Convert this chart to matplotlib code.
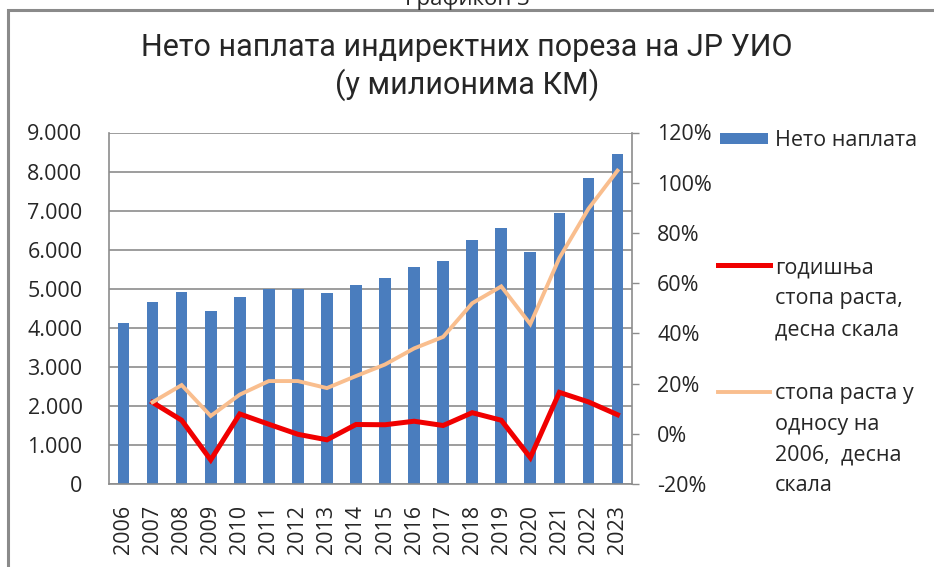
import matplotlib
matplotlib.use("Agg")
import matplotlib.pyplot as plt
from matplotlib.ticker import FuncFormatter
from matplotlib.lines import Line2D
from matplotlib.patches import Rectangle
import numpy as np

plt.rcParams['font.family'] = ['Open Sans', 'DejaVu Sans']

# ---------------- data ----------------
years = ['2006', '2007', '2008', '2009', '2010', '2011', '2012', '2013', '2014',
         '2015', '2016', '2017', '2018', '2019', '2020', '2021', '2022', '2023']
net_collection = [4130, 4660, 4915, 4430, 4790, 5000, 4995, 4890, 5085,
                  5275, 5545, 5710, 6235, 6565, 5940, 6940, 7825, 8450]
annual_growth = [None, 12.5, 5.4, -10.4, 7.9, 3.8, -0.2, -2.4, 3.7,
                 3.6, 5.0, 3.3, 8.4, 5.4, -9.5, 16.5, 12.7, 7.6]
growth_vs_2006 = [None, 12.6, 19.4, 7.1, 15.6, 21.0, 21.0, 18.2, 23.0,
                  27.6, 34.0, 38.6, 52.0, 58.7, 43.7, 70.0, 89.6, 104.8]

title_text = "Нето наплата индиректних пореза на ЈР УИО\n(у милионима КМ)"
caption_text = "Графикон 3"
legend_labels = ["Нето наплата",
                 "годишња\nстопа раста,\nдесна скала",
                 "стопа раста у\nодносу на\n2006,  десна\nскала"]

left_ticks = [0, 1000, 2000, 3000, 4000, 5000, 6000, 7000, 8000, 9000]
right_ticks = [-20, 0, 20, 40, 60, 80, 100, 120]

# ---------------- styles ----------------
W, H = 934, 567
bar_color = '#4A7DBE'
red = '#F00000'
orange = '#F9BE8E'
grid_color = '#8C8C8C'
text_color = '#262626'
tick_fs = 15.5

def fx(px):
    return px / W

def fy(py):
    return 1 - py / H

fig = plt.figure(figsize=(W / 100, H / 100), dpi=100)
fig.patch.set_facecolor('white')

ax = fig.add_axes([fx(109), fy(484), fx(632) - fx(109), (484 - 132.5) / H])
x = np.arange(len(years))

ax.bar(x, net_collection, width=0.4, color=bar_color, zorder=2)
ax.set_xlim(-0.5, len(years) - 0.5)
ax.set_ylim(0, 9000)
ax.set_yticks(left_ticks)
ax.yaxis.set_major_formatter(FuncFormatter(lambda v, p: f"{int(v):,}".replace(',', '.')))
ax.set_xticks(x)
ax.set_xticklabels(years, rotation=90, fontsize=tick_fs, color=text_color)
ax.tick_params(axis='y', length=0, pad=19, labelsize=tick_fs, labelcolor=text_color)
ax.tick_params(axis='x', length=0, pad=15)
ax.grid(axis='y', color=grid_color, lw=1.2, zorder=0)
ax.set_axisbelow(True)
for s in ['top', 'right']:
    ax.spines[s].set_visible(False)
for s in ['left', 'bottom']:
    ax.spines[s].set_color(grid_color)
    ax.spines[s].set_linewidth(1.2)

ax2 = ax.twinx()
ax2.set_ylim(-20, 120)
ax2.set_yticks(right_ticks)
ax2.yaxis.set_major_formatter(FuncFormatter(lambda v, p: f"{int(v)}%"))
ax2.tick_params(axis='y', length=5, width=1.0, color=grid_color, pad=13,
                labelsize=tick_fs, labelcolor=text_color)
for s in ['top', 'left', 'bottom']:
    ax2.spines[s].set_visible(False)
ax2.spines['right'].set_color(grid_color)
ax2.spines['right'].set_linewidth(1.2)

ag = np.array([np.nan if v is None else v for v in annual_growth], dtype=float)
gv = np.array([np.nan if v is None else v for v in growth_vs_2006], dtype=float)
ax2.plot(x, ag, color=red, lw=3.6, solid_joinstyle='miter', zorder=3)
ax2.plot(x, gv, color=orange, lw=2.8, solid_joinstyle='miter', zorder=4)

# ---------------- title / caption ----------------
fig.text(0.5, fy(67), title_text, ha='center', va='center', fontsize=22,
         family=['Roboto', 'DejaVu Sans'], color=text_color, linespacing=1.28)
fig.text(0.5, fy(5), caption_text, ha='center', va='baseline', fontsize=16,
         color=text_color)

# ---------------- outer frame ----------------
fig.add_artist(Rectangle((fx(8), -0.1), 1.5, fy(10) + 0.1, transform=fig.transFigure,
                         fill=False, ec='#8A8A8A', lw=2.2))

# ---------------- legend ----------------
fig.add_artist(Rectangle((fx(720), fy(143.5)), fx(768) - fx(720), 10.5 / H,
                         transform=fig.transFigure, color=bar_color, lw=0))
fig.add_artist(Line2D([fx(718), fx(770)], [fy(265), fy(265)], transform=fig.transFigure,
                      color=red, lw=3.6))
fig.add_artist(Line2D([fx(718), fx(770)], [fy(392), fy(392)], transform=fig.transFigure,
                      color=orange, lw=2.8))
leg_fs = 15.5
fig.text(fx(775), fy(146), legend_labels[0], ha='left', va='baseline', fontsize=leg_fs,
         color=text_color)
fig.text(fx(775), fy(335), legend_labels[1], ha='left', va='baseline', fontsize=leg_fs,
         color=text_color, linespacing=1.6)
fig.text(fx(775), fy(491), legend_labels[2], ha='left', va='baseline', fontsize=leg_fs,
         color=text_color, linespacing=1.6)

fig.savefig('out.png', dpi=100, facecolor='white')
